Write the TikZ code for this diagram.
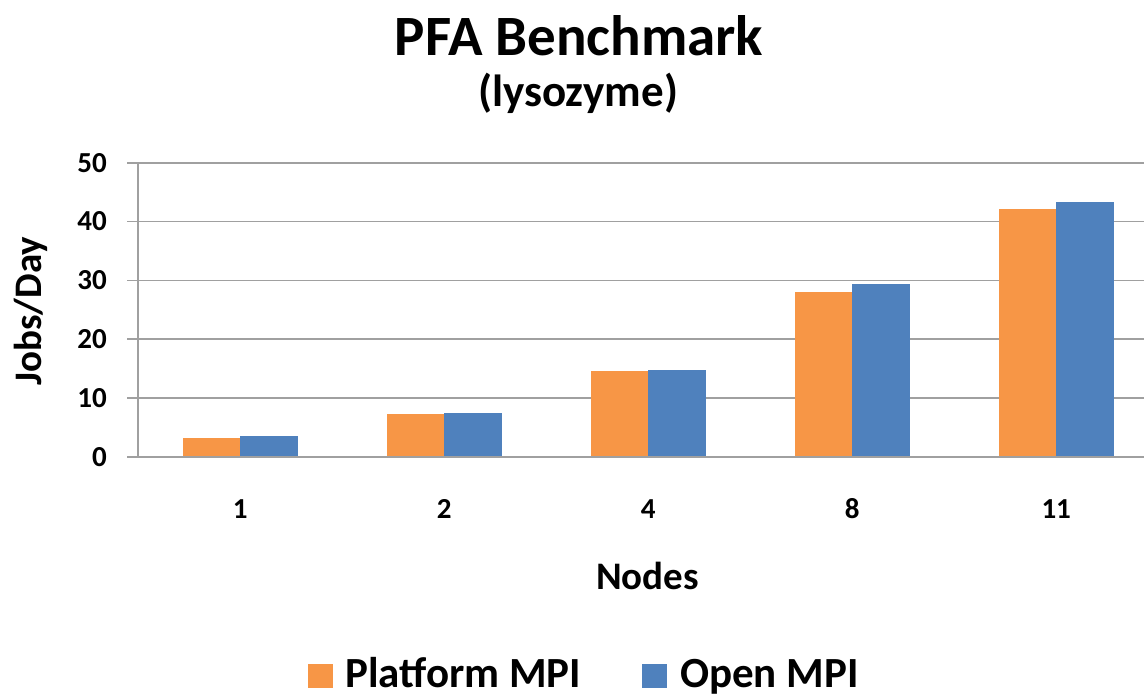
\documentclass[tikz,border=0pt]{standalone}
\usepackage{fontspec}
\setmainfont{Carlito}
\definecolor{orangebar}{HTML}{F79646}
\definecolor{bluebar}{HTML}{4F81BD}
\definecolor{gridgray}{HTML}{A0A0A0}
\newcommand{\yv}[1]{456.7-5.88*#1}
\begin{document}
\begin{tikzpicture}[x=1pt,y=-1pt,
  gridline/.style={draw=gridgray,line width=1.6pt},
  ticklab/.style={font=\fontsize{29}{32}\selectfont\bfseries,inner sep=0pt},
  axtitle/.style={font=\fontsize{39}{42}\selectfont\bfseries,inner sep=0pt},
  legtext/.style={font=\fontsize{43}{46}\selectfont\bfseries,inner sep=0pt,anchor=base west},
  orangefill/.style={fill=orangebar},
  bluefill/.style={fill=bluebar}]
\useasboundingbox[fill=white] (0,0) rectangle (1144,696);
% gridlines and ticks
\foreach \v in {0,10,20,30,40,50}{
  \draw[gridline] (127,{\yv{\v}}) -- (1144,{\yv{\v}});
  \node[ticklab,anchor=east] (yt\v) at (107,{\yv{\v}}) {\v};
}
\draw[gridline] (138,{\yv{0}}) -- (138,{\yv{50}});
% bars
\foreach \i/\lab/\a/\b in {0/1/3.13/3.52, 1/2/7.2/7.38, 2/4/14.57/14.83, 3/8/28.06/29.4, 4/11/42.07/43.37}{
  \pgfmathsetmacro{\cx}{240.2+204*\i}
  \fill[orangefill] ({\cx-57.4},{\yv{0}}) rectangle (\cx,{\yv{\a}});
  \fill[bluefill] (\cx,{\yv{0}}) rectangle ({\cx+57.4},{\yv{\b}});
  \node[ticklab] (xt\i) at (\cx,509) {\lab};
}
\draw[gridline] (127,{\yv{0}}) -- (1144,{\yv{0}});
% titles
\node[font=\fontsize{57}{60}\selectfont\bfseries,inner sep=0pt,anchor=base] (title) at (579,55) {PFA Benchmark};
\node[font=\fontsize{45}{48}\selectfont\bfseries,inner sep=0pt,anchor=base] (subtitle) at (578,106) {(lysozyme)};
\node[axtitle] (xtitle) at (647.5,576) {Nodes};
\node[axtitle,rotate=90,anchor=base] (ytitle) at (41,311) {Jobs/Day};
% legend
\fill[orangefill] (308,664) rectangle (333,688);
\node[legtext] (leg1) at (345,687) {Platform MPI};
\fill[bluefill] (642,664) rectangle (667,688);
\node[legtext] (leg2) at (680,687) {Open MPI};
\end{tikzpicture}
\end{document}
